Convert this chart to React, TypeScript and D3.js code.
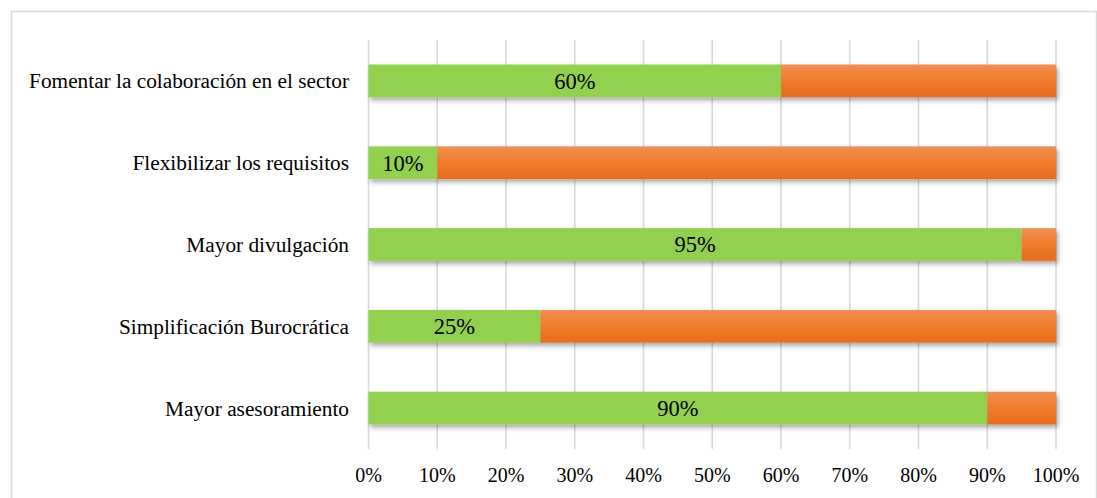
import * as d3 from "d3";

const categories = [
  "Fomentar la colaboración en el sector",
  "Flexibilizar los requisitos",
  "Mayor divulgación",
  "Simplificación Burocrática",
  "Mayor asesoramiento",
];
const siValues = [60, 10, 95, 25, 90];
const noValues = [40, 90, 5, 75, 10];
const ticks = [0, 10, 20, 30, 40, 50, 60, 70, 80, 90, 100];

const W = 1097;
const H = 498;
const FONT = "Liberation Serif";

export default function App() {
  const x = d3.scaleLinear().domain([0, 100]).range([368.5, 1056]);
  const y = d3
    .scaleBand<string>()
    .domain(categories)
    .range([40, 449])
    .paddingInner(0.6)
    .paddingOuter(0.3);
  const bh = y.bandwidth();

  return (
    <svg
      width={W}
      height={H}
      style={{ position: "absolute", left: 0, top: 0, background: "#fff", fontFamily: FONT }}
    >
      <defs>
        <linearGradient id="orangeGrad" x1="0" y1="0" x2="0" y2="1">
          <stop offset="0%" stopColor="#f08e55" />
          <stop offset="50%" stopColor="#f07c2c" />
          <stop offset="100%" stopColor="#e56c1c" />
        </linearGradient>
        <filter id="shadow" x="-5%" y="-30%" width="110%" height="180%">
          <feDropShadow dx="2" dy="3" stdDeviation="2.5" floodColor="#000" floodOpacity="0.35" />
        </filter>
      </defs>

      {/* outer frame */}
      <rect x={11.5} y={11.5} width={1085} height={520} fill="none" stroke="#d9d9d9" strokeWidth={1.5} />

      {/* grid */}
      {ticks.map((t) => (
        <line key={t} x1={x(t)} x2={x(t)} y1={40} y2={449} stroke="#d9d9d9" strokeWidth={1.6} />
      ))}

      {/* bars */}
      {categories.map((c, i) => {
        const y0 = y(c)!;
        return (
          <g key={c} filter="url(#shadow)">
            <rect x={x(0)} y={y0} width={x(siValues[i]) - x(0)} height={bh} fill="#92d050" />
            <rect
              x={x(siValues[i])}
              y={y0}
              width={x(siValues[i] + noValues[i]) - x(siValues[i])}
              height={bh}
              fill="url(#orangeGrad)"
            />
          </g>
        );
      })}

      {/* data labels */}
      {categories.map((c, i) => (
        <text
          key={c}
          x={(x(0) + x(siValues[i])) / 2}
          y={y(c)! + bh / 2}
          dy="0.35em"
          textAnchor="middle"
          fontSize={22.5}
          fill="#000"
        >
          {siValues[i]}%
        </text>
      ))}

      {/* category labels */}
      {categories.map((c) => (
        <text
          key={c}
          x={349}
          y={y(c)! + bh / 2}
          dy="0.35em"
          textAnchor="end"
          fontSize={21.3}
          fill="#000"
        >
          {c}
        </text>
      ))}

      {/* x tick labels */}
      {ticks.map((t) => (
        <text key={t} x={x(t)} y={482} textAnchor="middle" fontSize={20} fill="#000">
          {t}%
        </text>
      ))}
    </svg>
  );
}
